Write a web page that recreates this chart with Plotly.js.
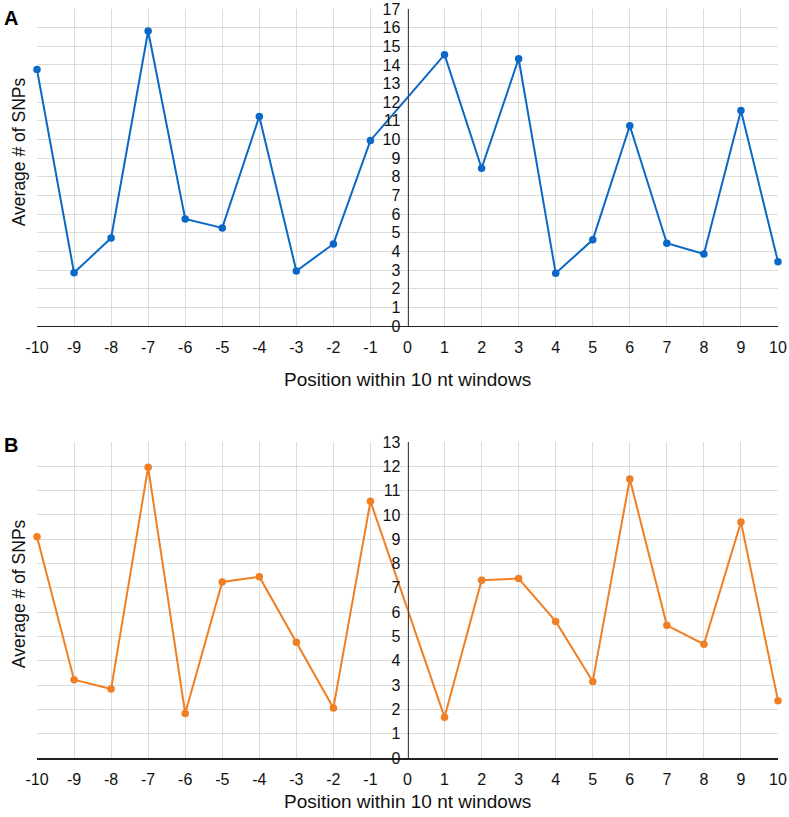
<!DOCTYPE html>
<html>
<head>
<meta charset="utf-8">
<script src="https://cdn.plot.ly/plotly-3.0.1.min.js"></script>
<style>
  html, body { margin: 0; padding: 0; background: #fff; }
  #graph { width: 789px; height: 817px; }
</style>
</head>
<body>
<div id="graph"></div>
<script>
// positions within the 10 nt windows (0 has no value, line just runs through)
var positions = [-10, -9, -8, -7, -6, -5, -4, -3, -2, -1, 0, 1, 2, 3, 4, 5, 6, 7, 8, 9, 10];

// panel A values
var snpsA = [13.75, 2.85, 4.72, 15.82, 5.74, 5.26, 11.24, 2.95, 4.4, 9.95, null,
             14.55, 8.46, 14.33, 2.83, 4.62, 10.74, 4.44, 3.86, 11.56, 3.44];

// panel B values
var snpsB = [9.1, 3.22, 2.84, 11.96, 1.83, 7.24, 7.46, 4.76, 2.06, 10.56, null,
             1.68, 7.31, 7.38, 5.62, 3.15, 11.48, 5.46, 4.68, 9.71, 2.36];

var tickVals = positions;
var tickText = positions.map(String);

var font = 'Liberation Sans, Arial, sans-serif';
var gridColor = '#dcdcdc';

var traceA = {
  x: positions,
  y: snpsA,
  xaxis: 'x',
  yaxis: 'y',
  type: 'scatter',
  mode: 'lines+markers',
  connectgaps: true,
  cliponaxis: false,
  line: { color: '#0b68c6', width: 2 },
  marker: { color: '#0b68c6', size: 7.5 },
  hoverinfo: 'x+y'
};

var traceB = {
  x: positions,
  y: snpsB,
  xaxis: 'x2',
  yaxis: 'y2',
  type: 'scatter',
  mode: 'lines+markers',
  connectgaps: true,
  cliponaxis: false,
  line: { color: '#f07f23', width: 2 },
  marker: { color: '#f07f23', size: 7.5 },
  hoverinfo: 'x+y'
};

function xAxis(anchor) {
  return {
    anchor: anchor,
    domain: [0, 1],
    range: [-10, 10],
    tickvals: tickVals,
    ticktext: tickText,
    ticks: '',
    ticklabelstandoff: 6,
    showgrid: true,
    gridcolor: gridColor,
    gridwidth: 1,
    zeroline: false,
    showline: true,
    linecolor: '#222',
    linewidth: 1.5,
    tickfont: { family: font, size: 16, color: '#111' },
    fixedrange: true
  };
}

function yAxis(domain, top) {
  return {
    domain: domain,
    anchor: 'free',
    position: 0.5,
    range: [0, top],
    dtick: 1,
    tick0: 0,
    ticks: '',
    ticklabelstandoff: 4,
    showgrid: true,
    gridcolor: gridColor,
    gridwidth: 1,
    zeroline: false,
    showline: true,
    linecolor: '#444',
    linewidth: 1.2,
    tickfont: { family: font, size: 16, color: '#111' },
    fixedrange: true
  };
}

var layout = {
  width: 789,
  height: 817,
  margin: { l: 37, r: 11, t: 9, b: 59 },
  paper_bgcolor: '#fff',
  plot_bgcolor: '#fff',
  showlegend: false,
  xaxis: xAxis('y'),
  yaxis: yAxis([0.5768, 1], 17),
  xaxis2: xAxis('y2'),
  yaxis2: yAxis([0, 0.4219], 13),
  annotations: [
    { text: '<b>A</b>', xref: 'paper', yref: 'paper', x: -0.047, y: 1.006,
      xanchor: 'left', yanchor: 'top', showarrow: false,
      font: { family: font, size: 20, color: '#000' } },
    { text: '<b>B</b>', xref: 'paper', yref: 'paper', x: -0.047, y: 0.435,
      xanchor: 'left', yanchor: 'top', showarrow: false,
      font: { family: font, size: 20, color: '#000' } },
    { text: 'Average # of SNPs', xref: 'paper', yref: 'paper', x: -0.024, y: 0.809,
      xanchor: 'center', yanchor: 'middle', textangle: -90, showarrow: false,
      font: { family: font, size: 17.5, color: '#111' } },
    { text: 'Average # of SNPs', xref: 'paper', yref: 'paper', x: -0.024, y: 0.219,
      xanchor: 'center', yanchor: 'middle', textangle: -90, showarrow: false,
      font: { family: font, size: 17.5, color: '#111' } },
    { text: 'Position within 10 nt windows', xref: 'paper', yref: 'paper', x: 0.5, y: 0.505,
      xanchor: 'center', yanchor: 'middle', showarrow: false,
      font: { family: font, size: 19, color: '#111' } },
    { text: 'Position within 10 nt windows', xref: 'paper', yref: 'paper', x: 0.5, y: -0.058,
      xanchor: 'center', yanchor: 'middle', showarrow: false,
      font: { family: font, size: 19, color: '#111' } }
  ]
};

var config = { responsive: false, displayModeBar: false, staticPlot: true };
Plotly.newPlot('graph', [traceA, traceB], layout, config);
</script>
</body>
</html>
